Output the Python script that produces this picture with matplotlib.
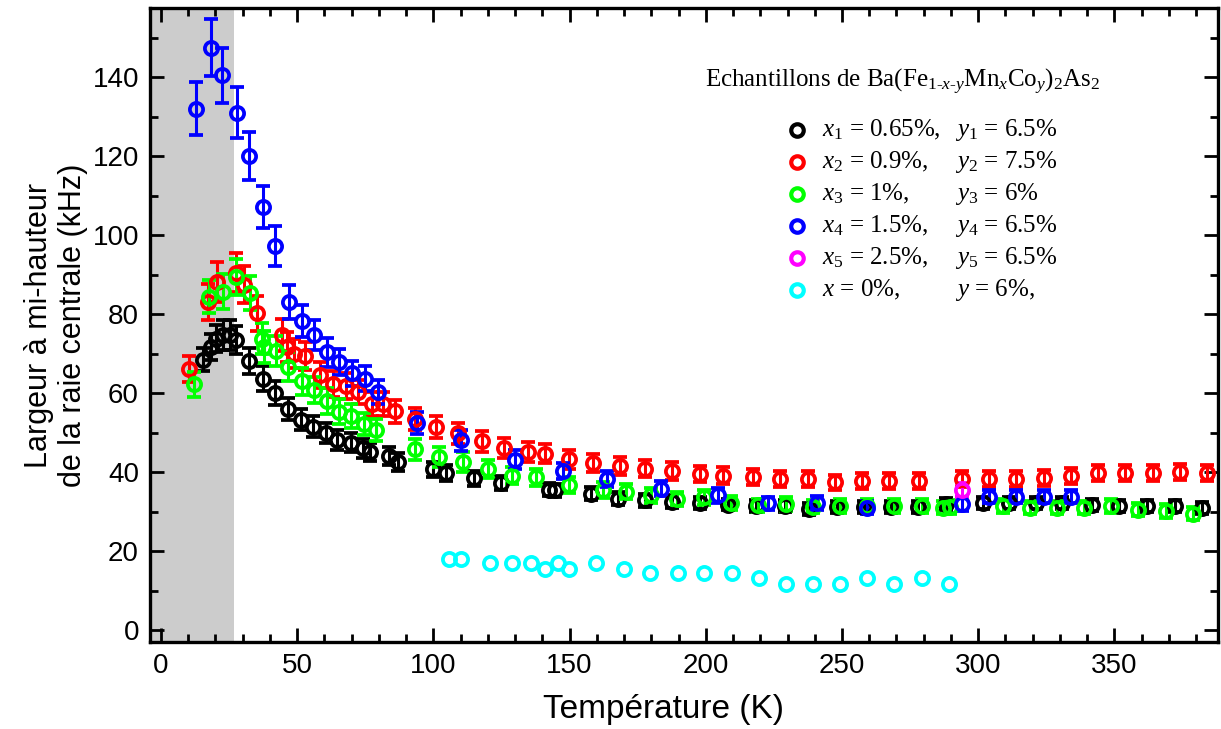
"""Half-width of the central NMR line vs temperature, Ba(Fe1-x-yMnxCoy)2As2 samples."""

import matplotlib

matplotlib.use("Agg")
import matplotlib.pyplot as plt
from matplotlib.ticker import MultipleLocator

plt.rcParams["font.family"] = ["Liberation Sans", "DejaVu Sans"]
plt.rcParams["mathtext.fontset"] = "custom"
plt.rcParams["mathtext.rm"] = "Liberation Serif"
plt.rcParams["mathtext.it"] = "Liberation Serif:italic"

# --- data -----------------------------------------------------------------
t_black = [15.5, 18.3, 20.2, 22.6, 25.3, 27.7, 32.4, 37.3, 41.9, 46.7, 51.3, 55.9,
           60.5, 64.7, 69.7, 74.2, 76.9, 83.7, 87.0, 99.8, 104.8, 114.8, 124.9,
           142.4, 144.5, 157.7, 167.7, 177.7, 187.6, 197.7, 208.0, 218.4, 229.0,
           238.0, 248.0, 258.0, 268.0, 278.0, 288.0, 301.8, 311.3, 321.1, 330.9,
           341.9, 351.7, 362.0, 372.2, 382.0]
w_black = [68.5, 71.7, 73.8, 74.7, 74.7, 73.4, 68.1, 63.7, 60.1, 55.9, 53.3, 51.5,
           50.0, 48.1, 47.4, 46.0, 45.2, 44.1, 42.6, 40.7, 39.8, 38.4, 37.3,
           35.6, 35.4, 34.6, 33.3, 32.9, 32.5, 32.2, 31.8, 31.4, 31.4,
           30.6, 31.2, 31.2, 31.2, 31.2, 32.0, 32.1, 32.1, 32.1, 32.1,
           31.6, 31.4, 31.4, 31.4, 31.0]
e_black = [3.0, 3.2, 3.5, 3.8, 3.8, 3.6, 3.3, 3.2, 3.0, 2.8, 2.7, 2.6,
           2.5, 2.5, 2.4, 2.4, 2.3, 2.2, 2.2, 2.0, 2.0, 1.9, 1.8,
           1.7, 1.7, 1.7, 1.6, 1.6, 1.6, 1.6, 1.5, 1.5, 1.5,
           1.5, 1.5, 1.5, 1.5, 1.5, 1.5, 1.5, 1.5, 1.5, 1.5,
           1.5, 1.5, 1.5, 1.5, 1.5]

t_red = [10.3, 17.3, 20.4, 27.5, 30.4, 35.1, 44.3, 46.1, 48.9, 52.8, 58.3, 63.2,
         67.8, 72.4, 77.3, 81.5, 86.0, 93.1, 101.0, 109.0, 118.0, 126.0, 134.7,
         140.8, 149.7, 158.5, 168.6, 177.7, 187.6, 197.7, 206.2, 217.5, 227.4,
         237.4, 247.4, 257.3, 267.3, 278.3, 294.0, 304.0, 314.0, 324.0, 334.0,
         344.0, 354.0, 364.0, 374.0, 384.0]
w_red = [66.2, 83.1, 88.2, 90.5, 87.5, 80.2, 74.7, 71.7, 70.0, 69.4, 64.6, 62.4,
         61.8, 60.3, 57.2, 57.2, 55.4, 53.4, 51.5, 49.8, 47.8, 46.2, 45.2,
         44.7, 43.3, 42.4, 41.6, 40.9, 40.3, 39.5, 39.1, 38.8, 38.2,
         38.2, 37.4, 37.8, 37.8, 37.8, 38.2, 38.2, 38.2, 38.6, 39.0,
         39.8, 39.8, 39.8, 40.1, 39.8]
e_red = [3.3, 4.5, 5.0, 5.0, 4.8, 4.5, 4.0, 3.8, 3.7, 3.6, 3.4, 3.3,
         3.2, 3.1, 3.0, 3.0, 2.9, 2.8, 2.8, 2.7, 2.6, 2.5, 2.5,
         2.4, 2.4, 2.3, 2.3, 2.2, 2.2, 2.1, 2.1, 2.1, 2.0,
         2.0, 2.0, 2.0, 2.0, 2.0, 2.0, 2.0, 2.0, 2.0, 2.0,
         2.0, 2.0, 2.0, 2.0, 2.0]

t_green = [12.2, 17.5, 22.6, 27.7, 32.6, 37.0, 38.0, 42.2, 46.7, 51.6, 56.1,
           60.8, 65.4, 69.9, 74.5, 79.1, 93.1, 102.0, 110.9, 120.0, 128.8,
           137.8, 149.7, 162.2, 170.8, 179.9, 189.5, 199.5, 209.3, 219.0,
           229.3, 239.2, 249.4, 259.3, 269.2, 279.2, 286.9, 289.7, 309.1,
           318.9, 329.0, 338.8, 348.8, 358.7, 368.8, 378.8]
w_green = [62.2, 84.4, 85.7, 89.4, 85.4, 73.8, 71.7, 70.7, 66.7, 63.0, 60.9,
           58.0, 55.3, 54.3, 52.2, 50.6, 45.8, 43.9, 42.5, 40.9, 39.1,
           38.7, 36.7, 35.4, 35.0, 34.2, 33.3, 33.6, 32.2, 31.6,
           31.9, 31.3, 31.4, 31.4, 31.4, 31.4, 31.0, 31.2, 31.4,
           31.0, 31.0, 31.0, 31.4, 30.5, 30.2, 29.5]
e_green = [3.2, 4.2, 4.5, 4.5, 4.3, 4.0, 4.0, 3.8, 3.6, 3.4, 3.3,
           3.2, 3.1, 3.0, 2.9, 2.8, 2.6, 2.5, 2.5, 2.3, 2.2,
           2.1, 2.0, 2.0, 1.9, 1.9, 1.8, 1.8, 1.7, 1.7,
           1.7, 1.7, 1.7, 1.7, 1.7, 1.7, 1.7, 1.7, 1.7,
           1.7, 1.7, 1.7, 1.7, 1.7, 1.7, 1.7]

t_blue = [12.8, 18.3, 22.4, 27.9, 32.4, 37.4, 42.0, 46.9, 51.6, 56.0, 61.0, 65.4,
          70.2, 74.8, 79.6, 94.0, 110.0, 129.8, 147.7, 163.7, 183.6, 204.6, 222.7,
          241.0, 259.3, 294.0, 304.0, 314.0, 324.0, 334.0]
w_blue = [132.0, 147.5, 140.5, 131.0, 120.0, 107.2, 97.3, 83.1, 78.2, 74.7, 70.3, 67.9,
          65.0, 63.7, 60.3, 52.5, 48.1, 43.2, 40.3, 38.3, 35.8, 34.1, 32.1,
          32.2, 31.0, 31.9, 33.8, 33.8, 33.8, 33.8]
e_blue = [6.7, 7.3, 7.0, 6.5, 6.0, 5.3, 5.0, 4.2, 4.0, 3.8, 3.6, 3.4,
          3.2, 3.1, 3.0, 2.8, 2.7, 2.3, 2.1, 2.0, 1.9, 1.8, 1.7,
          1.7, 1.7, 1.7, 1.7, 1.7, 1.7, 1.7]

t_magenta = [294.0]
w_magenta = [35.4]
e_magenta = [1.8]

t_cyan = [105.7, 110.0, 120.9, 128.8, 135.7, 140.8, 145.7, 149.7, 159.8, 169.8,
          179.6, 189.7, 199.5, 209.5, 219.4, 229.4, 239.2, 249.2, 259.1, 269.2,
          279.2, 289.1]
w_cyan = [18.0, 18.0, 16.9, 16.9, 16.9, 15.6, 16.9, 15.6, 16.9, 15.6,
          14.4, 14.4, 14.4, 14.4, 13.1, 11.8, 11.8, 11.8, 13.1, 11.8,
          13.1, 11.8]

shaded_range = (-4, 26.8)

legend_colors = ["black", "red", "#00ff00", "blue", "magenta", "cyan"]
legend_x = [r"$x_1$ = 0.65%,", r"$x_2$ = 0.9%,", r"$x_3$ = 1%,",
            r"$x_4$ = 1.5%,", r"$x_5$ = 2.5%,", r"$x$ = 0%,"]
legend_y = [r"$y_1$ = 6.5%", r"$y_2$ = 7.5%", r"$y_3$ = 6%",
            r"$y_4$ = 6.5%", r"$y_5$ = 6.5%", r"$y$ = 6%,"]
legend_title = (r"Echantillons de Ba(Fe$_{1\text{-}x\text{-}y}$"
                r"Mn$_x$Co$_y$)$_2$As$_2$")


def main() -> None:
    fig = plt.figure(figsize=(12.21, 7.29), dpi=100)
    ax = fig.add_axes([0.1229, 0.1193, 0.8746, 0.8697])

    ax.axvspan(*shaded_range, color="#cccccc", lw=0, zorder=0)

    marker_kw = dict(fmt="o", ms=9.5, mfc="none", mew=2.7, elinewidth=2.2,
                     capsize=4.8, capthick=2.2)
    series = [
        (t_black, w_black, e_black, "black"),
        (t_red, w_red, e_red, "red"),
        (t_green, w_green, e_green, "#00ff00"),
        (t_blue, w_blue, e_blue, "blue"),
        (t_magenta, w_magenta, e_magenta, "magenta"),
    ]
    for temps, widths, errs, color in series:
        ax.errorbar(temps, widths, yerr=errs, color=color, mec=color, **marker_kw)
    ax.plot(t_cyan, w_cyan, "o", ms=9.5, mfc="none", mec="cyan", mew=2.7)

    ax.set_xlim(-4, 388)
    ax.set_ylim(-3, 157.5)
    ax.xaxis.set_major_locator(MultipleLocator(50))
    ax.xaxis.set_minor_locator(MultipleLocator(10))
    ax.yaxis.set_major_locator(MultipleLocator(20))
    ax.yaxis.set_minor_locator(MultipleLocator(10))
    ax.tick_params(which="both", direction="in", top=True, right=True,
                   width=2.0, labelsize=20)
    ax.tick_params(which="major", length=10, pad=8)
    ax.tick_params(which="minor", length=5.5)
    for spine in ax.spines.values():
        spine.set_linewidth(2.4)

    ax.set_xlabel("Température (K)", fontsize=24)
    ax.xaxis.set_label_coords(0.481, -0.082)
    ax.set_ylabel("Largeur à mi-hauteur\nde la raie centrale (kHz)",
                  fontsize=22, labelpad=3, linespacing=1.2)

    # legend block, drawn by hand so the y column lines up
    serif = "Liberation Serif"
    ax.text(0.5197, 0.883, legend_title, transform=ax.transAxes, fontsize=18,
            family=serif, ha="left", va="center")
    for i, (color, lx, ly) in enumerate(zip(legend_colors, legend_x, legend_y)):
        yy = 0.8076 - i * 0.0505
        ax.plot([0.606], [yy], "o", transform=ax.transAxes, ms=9, mfc="none",
                mec=color, mew=3.0, clip_on=False)
        ax.text(0.629, yy, lx, transform=ax.transAxes, fontsize=18,
                family=serif, ha="left", va="center")
        ax.text(0.754, yy, ly, transform=ax.transAxes, fontsize=18,
                family=serif, ha="left", va="center")

    fig.savefig("out.png", dpi=100)
    plt.close(fig)


if __name__ == "__main__":
    main()
